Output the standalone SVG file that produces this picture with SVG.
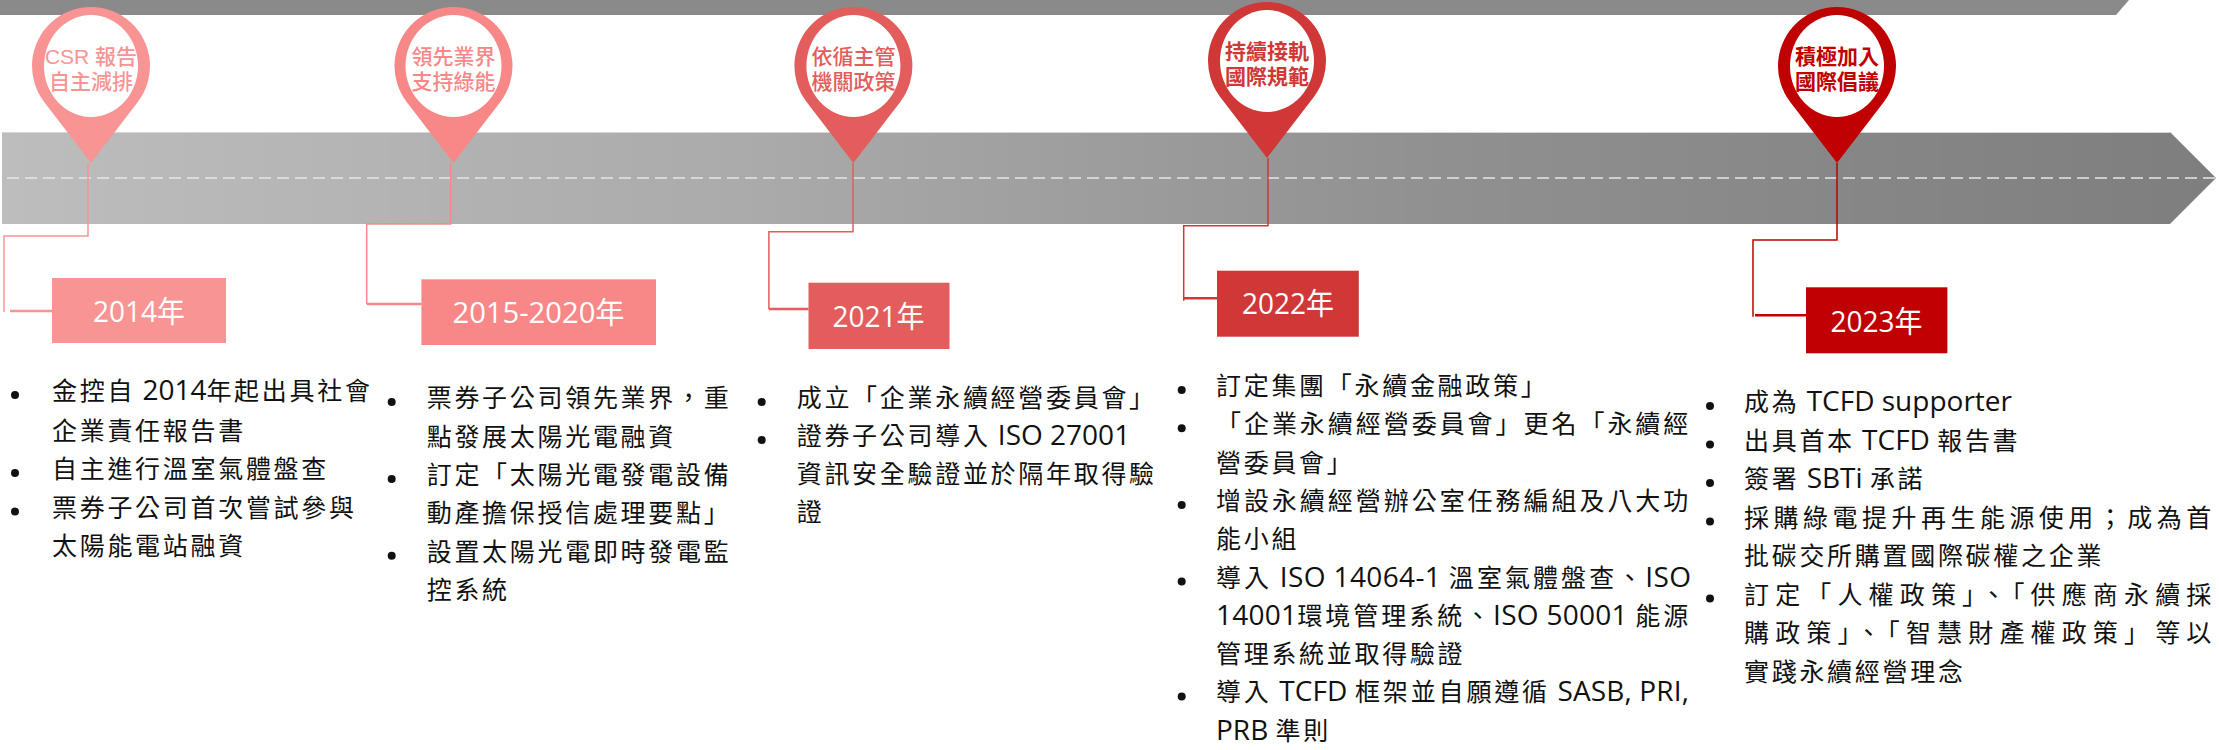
<svg xmlns="http://www.w3.org/2000/svg" xmlns:xlink="http://www.w3.org/1999/xlink" width="2219" height="750" viewBox="0 0 2219 750">
<defs>
  <linearGradient id="bandGrad" x1="0" y1="0" x2="2219" y2="0" gradientUnits="userSpaceOnUse">
    <stop offset="0" stop-color="#bdbdbd"/>
    <stop offset="0.33" stop-color="#ababab"/>
    <stop offset="0.65" stop-color="#909090"/>
    <stop offset="1" stop-color="#7e7e7e"/>
  </linearGradient>
  <path id="pinShape" d="M0,97 L-46.8,35.9 A59,59 0 1 1 46.8,35.9 Z"/>
  <style>
    .pinTxt{font-family:"Liberation Sans","Noto Sans CJK TC",sans-serif;font-size:21px;font-weight:500;text-anchor:middle}
    .pinB{font-weight:700}
    .yr{font-family:"Open Sans","Noto Sans CJK TC",sans-serif;font-size:30px;fill:#ffffff;text-anchor:middle}
    .body{font-family:"Noto Sans CJK TC","Noto Sans",sans-serif;font-size:25px;letter-spacing:2.7px;fill:#111111}
    .lat{font-family:"Open Sans","Noto Sans",sans-serif;font-size:28px;letter-spacing:0px}
    .inner{fill:#ffffff}
    .conn{fill:none;stroke-width:1.5}
    .connEnd{fill:none;stroke-width:2.5}
    .c1{fill:#F99494}.s1{stroke:#F99494}
    .c2{fill:#F88888}.s2{stroke:#F88888}
    .c3{fill:#E35D5D}.s3{stroke:#E35D5D}
    .c4{fill:#D03838}.s4{stroke:#D03838}
    .c5{fill:#C00000}.s5{stroke:#C00000}
    .dot{fill:#111111}
  </style>
</defs>

<g id="background">
  <polygon points="0,0 2129,0 2116,15 0,15" fill="#8a8a8a"/>
  <polygon points="2,132 2170,132 2216,178 2170,224 2,224" fill="url(#bandGrad)"/>
  <line x1="2" y1="132.5" x2="2170" y2="132.5" stroke="#d6d6d6" stroke-width="1"/>
  <line x1="7" y1="178" x2="2216" y2="178" stroke="#e6e6e6" stroke-width="1.5" stroke-dasharray="12 6"/>
</g>

<g id="connectors">
  <path class="conn s1" d="M88,163 V236 H4 V312"/>
  <path class="connEnd s1" d="M10,311 H52"/>
  <path class="conn s2" d="M450.7,163 V224 H366.7 V304"/>
  <path class="connEnd s2" d="M366.7,304 H421.4"/>
  <path class="conn s3" d="M853,163 V231.7 H768.9 V309"/>
  <path class="connEnd s3" d="M768.9,309 H808.5"/>
  <path class="conn s4" d="M1268,158 V225.7 H1183.7 V300.7"/>
  <path class="connEnd s4" d="M1183.7,298.3 H1217"/>
  <path class="conn s5" d="M1837,163 V240 H1753 V316.7"/>
  <path class="connEnd s5" d="M1755,315.3 H1806"/>
</g>

<g id="pin-2014">
  <use xlink:href="#pinShape" href="#pinShape" transform="translate(91,66)" class="c1"/>
  <ellipse class="inner" cx="91" cy="66" rx="47" ry="51"/>
  <text class="pinTxt c1" x="91" y="63.5">CSR 報告<tspan x="91" dy="25">自主減排</tspan></text>
</g>
<g id="pin-2015">
  <use xlink:href="#pinShape" href="#pinShape" transform="translate(453.5,66)" class="c2"/>
  <ellipse class="inner" cx="453.5" cy="66" rx="48" ry="51"/>
  <text class="pinTxt c2" x="453.5" y="63.5">領先業界<tspan x="453.5" dy="25">支持綠能</tspan></text>
</g>
<g id="pin-2021">
  <use xlink:href="#pinShape" href="#pinShape" transform="translate(853.4,66)" class="c3"/>
  <ellipse class="inner" cx="853.4" cy="66" rx="47" ry="51"/>
  <text class="pinTxt c3" x="853.4" y="63.5">依循主管<tspan x="853.4" dy="25">機關政策</tspan></text>
</g>
<g id="pin-2022">
  <use xlink:href="#pinShape" href="#pinShape" transform="translate(1267,61)" class="c4"/>
  <ellipse class="inner" cx="1267" cy="61" rx="47" ry="51"/>
  <text class="pinTxt pinB c4" x="1267" y="58.5">持續接軌<tspan x="1267" dy="25">國際規範</tspan></text>
</g>
<g id="pin-2023">
  <use xlink:href="#pinShape" href="#pinShape" transform="translate(1837,66)" class="c5"/>
  <ellipse class="inner" cx="1837" cy="66" rx="47" ry="51"/>
  <text class="pinTxt pinB c5" x="1837" y="63.5">積極加入<tspan x="1837" dy="25">國際倡議</tspan></text>
</g>

<g id="box-2014">
  <rect class="c1" x="52" y="278" width="174" height="65"/>
  <text class="yr" x="139" y="322" textLength="92" lengthAdjust="spacingAndGlyphs">2014年</text>
</g>
<g id="box-2015">
  <rect class="c2" x="421.4" y="279.3" width="234.6" height="65.7"/>
  <text class="yr" x="538.5" y="323" textLength="172" lengthAdjust="spacingAndGlyphs">2015-2020年</text>
</g>
<g id="box-2021">
  <rect class="c3" x="808.5" y="282.7" width="141" height="66.3"/>
  <text class="yr" x="878.5" y="327" textLength="92" lengthAdjust="spacingAndGlyphs">2021年</text>
</g>
<g id="box-2022">
  <rect class="c4" x="1217" y="270.7" width="141.8" height="66"/>
  <text class="yr" x="1288" y="314" textLength="92" lengthAdjust="spacingAndGlyphs">2022年</text>
</g>
<g id="box-2023">
  <rect class="c5" x="1806" y="287.3" width="141.4" height="66"/>
  <text class="yr" x="1876.5" y="331.5" textLength="92" lengthAdjust="spacingAndGlyphs">2023年</text>
</g>

<g id="list-2014">
  <circle class="dot" cx="15" cy="395" r="4"/>
  <circle class="dot" cx="15" cy="473" r="4"/>
  <circle class="dot" cx="15" cy="511.5" r="4"/>
  <text class="body" x="52" y="400">金控自<tspan class="lat"> 2014</tspan>年起出具社會</text>
  <text class="body" x="52" y="439.5">企業責任報告書</text>
  <text class="body" x="52" y="478">自主進行溫室氣體盤查</text>
  <text class="body" x="52" y="516.5">票券子公司首次嘗試參與</text>
  <text class="body" x="52" y="555">太陽能電站融資</text>
</g>

<g id="list-2015">
  <circle class="dot" cx="391.7" cy="402" r="4"/>
  <circle class="dot" cx="391.7" cy="479" r="4"/>
  <circle class="dot" cx="391.7" cy="555.7" r="4"/>
  <text class="body" x="426.7" y="407">票券子公司領先業界，重</text>
  <text class="body" x="426.7" y="445.7">點發展太陽光電融資</text>
  <text class="body" x="426.7" y="484">訂定「太陽光電發電設備</text>
  <text class="body" x="426.7" y="522">動產擔保授信處理要點」</text>
  <text class="body" x="426.7" y="560.7">設置太陽光電即時發電監</text>
  <text class="body" x="426.7" y="599">控系統</text>
</g>

<g id="list-2021">
  <circle class="dot" cx="761.7" cy="402" r="4"/>
  <circle class="dot" cx="761.7" cy="440" r="4"/>
  <text class="body" x="796.7" y="407">成立「企業永續經營委員會」</text>
  <text class="body" x="796.7" y="445">證券子公司導入<tspan class="lat"> ISO 27001</tspan></text>
  <text class="body" x="796.7" y="483">資訊安全驗證並於隔年取得驗</text>
  <text class="body" x="796.7" y="521">證</text>
</g>

<g id="list-2022">
  <circle class="dot" cx="1181.7" cy="390" r="4"/>
  <circle class="dot" cx="1181.7" cy="428.3" r="4"/>
  <circle class="dot" cx="1181.7" cy="505" r="4"/>
  <circle class="dot" cx="1181.7" cy="581.5" r="4"/>
  <circle class="dot" cx="1181.7" cy="696.4" r="4"/>
  <text class="body" x="1216" y="395">訂定集團「永續金融政策」</text>
  <text class="body" x="1216" y="433.3" textLength="475" lengthAdjust="spacing">「企業永續經營委員會」更名「永續經</text>
  <text class="body" x="1216" y="471.6">營委員會」</text>
  <text class="body" x="1216" y="510" textLength="475" lengthAdjust="spacing">增設永續經營辦公室任務編組及八大功</text>
  <text class="body" x="1216" y="548.2">能小組</text>
  <text class="body" x="1216" y="586.5" textLength="475" lengthAdjust="spacing">導入<tspan class="lat"> ISO 14064-1 </tspan>溫室氣體盤查、<tspan class="lat">ISO</tspan></text>
  <text class="body" x="1216" y="624.8" textLength="475" lengthAdjust="spacing"><tspan class="lat">14001</tspan>環境管理系統、<tspan class="lat">ISO 50001 </tspan>能源</text>
  <text class="body" x="1216" y="663">管理系統並取得驗證</text>
  <text class="body" x="1216" y="701.4" textLength="473" lengthAdjust="spacing">導入<tspan class="lat"> TCFD </tspan>框架並自願遵循<tspan class="lat"> SASB, PRI,</tspan></text>
  <text class="body" x="1216" y="739.7"><tspan class="lat">PRB </tspan>準則</text>
</g>

<g id="list-2023">
  <circle class="dot" cx="1710" cy="406" r="4"/>
  <circle class="dot" cx="1710" cy="444.5" r="4"/>
  <circle class="dot" cx="1710" cy="483" r="4"/>
  <circle class="dot" cx="1710" cy="521.5" r="4"/>
  <circle class="dot" cx="1710" cy="598.5" r="4"/>
  <text class="body" x="1744" y="411">成為<tspan class="lat"> TCFD supporter</tspan></text>
  <text class="body" x="1744" y="449.5">出具首本<tspan class="lat"> TCFD </tspan>報告書</text>
  <text class="body" x="1744" y="488">簽署<tspan class="lat"> SBTi </tspan>承諾</text>
  <text class="body" x="1744" y="526.5" textLength="470" lengthAdjust="spacing">採購綠電提升再生能源使用；成為首</text>
  <text class="body" x="1744" y="565">批碳交所購置國際碳權之企業</text>
  <text class="body" x="1744" y="603.5" textLength="470" lengthAdjust="spacing">訂定「人權政策」、「供應商永續採</text>
  <text class="body" x="1744" y="642" textLength="470" lengthAdjust="spacing">購政策」、「智慧財產權政策」等以</text>
  <text class="body" x="1744" y="680.5">實踐永續經營理念</text>
</g>
</svg>
